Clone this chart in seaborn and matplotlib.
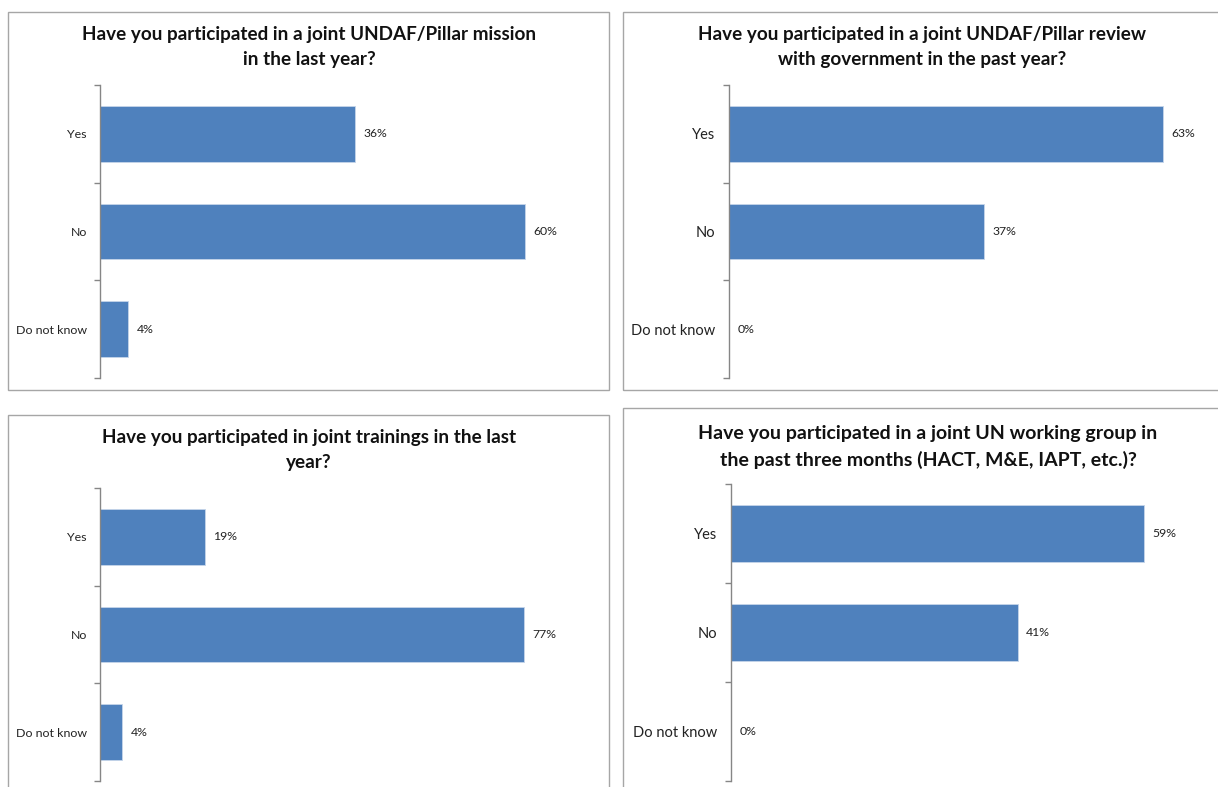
import matplotlib
matplotlib.use("Agg")
import matplotlib.pyplot as plt
from matplotlib.patches import Rectangle
from matplotlib.ticker import FixedLocator, NullFormatter
import seaborn as sns

sns.set_theme(style="white")
plt.rcParams["font.family"] = ["Lato", "DejaVu Sans"]

# Survey answers and shares for each question
categories = ["Yes", "No", "Do not know"]
mission_share = [0.36, 0.60, 0.04]
review_share = [0.63, 0.37, 0.00]
training_share = [0.19, 0.77, 0.04]
working_group_share = [0.59, 0.41, 0.00]

titles = [
    "Have you participated in a joint UNDAF/Pillar mission\nin the last year?",
    "Have you participated in a joint UNDAF/Pillar review\nwith government in the past year?",
    "Have you participated in joint trainings in the last\nyear?",
    "Have you participated in a joint UN working group in\nthe past three months (HACT, M&E, IAPT, etc.)?",
]

W, H = 1218, 787
fig = plt.figure(figsize=(W / 100, H / 100), dpi=100)
fig.patch.set_facecolor("white")

BAR = "#4F81BD"
AXIS = "#868686"


def px_rect(x0, y0, x1, y1):
    """Pixel box (top-left origin) -> figure fraction [l, b, w, h]."""
    return [x0 / W, 1 - y1 / H, (x1 - x0) / W, (y1 - y0) / H]


panels = [
    # chart frame, plot area, x max, title centre/size, tick font, tick pad
    dict(frame=(8, 12, 609, 390), area=(100, 85, 596, 378), xmax=0.7,
         title_xy=(309, 47), title_fs=13.6, tick_fs=8.9, pad=9.5, data=mission_share),
    dict(frame=(623, 12, 1230, 390), area=(729, 85, 1211, 378), xmax=0.7,
         title_xy=(922, 47), title_fs=13.6, tick_fs=10.5, pad=10, data=review_share),
    dict(frame=(8, 415, 609, 800), area=(100, 488, 596, 781), xmax=0.9,
         title_xy=(309, 450), title_fs=13.6, tick_fs=8.9, pad=9.5, data=training_share),
    dict(frame=(623, 408, 1230, 800), area=(731, 484, 1221, 781), xmax=0.7,
         title_xy=(928, 447), title_fs=14.0, tick_fs=10.5, pad=10, data=working_group_share),
]

for p, title in zip(panels, titles):
    fx0, fy0, fx1, fy1 = p["frame"]
    fig.patches.append(Rectangle((fx0 / W, 1 - fy1 / H), (fx1 - fx0) / W, (fy1 - fy0) / H,
                                 transform=fig.transFigure, fill=False,
                                 edgecolor="#a6a6a6", linewidth=1.0, zorder=0))

    ax = fig.add_axes(px_rect(*p["area"]))
    ax.set_facecolor("none")
    sns.barplot(x=p["data"], y=categories, orient="h", color=BAR, saturation=1,
                width=0.57, edgecolor="#c6d5ea", linewidth=0.6, ax=ax)
    ax.set_xlim(0, p["xmax"])
    ax.set_ylim(2.5, -0.5)

    ax.bar_label(ax.containers[0], labels=[f"{v:.0%}" for v in p["data"]],
                 padding=6, fontsize=8.8, color="#222222")

    for side in ("top", "right", "bottom"):
        ax.spines[side].set_visible(False)
    ax.spines["left"].set_color(AXIS)
    ax.spines["left"].set_linewidth(1.0)
    ax.set_xticks([])
    ax.set_xlabel("")
    ax.set_ylabel("")
    ax.yaxis.set_minor_locator(FixedLocator([-0.5, 0.5, 1.5, 2.5]))
    ax.yaxis.set_minor_formatter(NullFormatter())
    ax.tick_params(axis="y", which="major", length=0, pad=p["pad"],
                   labelsize=p["tick_fs"], labelcolor="#222222")
    ax.tick_params(axis="y", which="minor", left=True, length=4, width=1.0,
                   color=AXIS, direction="out")

    tx, ty = p["title_xy"]
    fig.text(tx / W, 1 - ty / H, title, ha="center", va="center",
             fontsize=p["title_fs"], fontweight="bold", color="#111111", linespacing=1.6)

fig.savefig("out.png", dpi=100, facecolor="white")
